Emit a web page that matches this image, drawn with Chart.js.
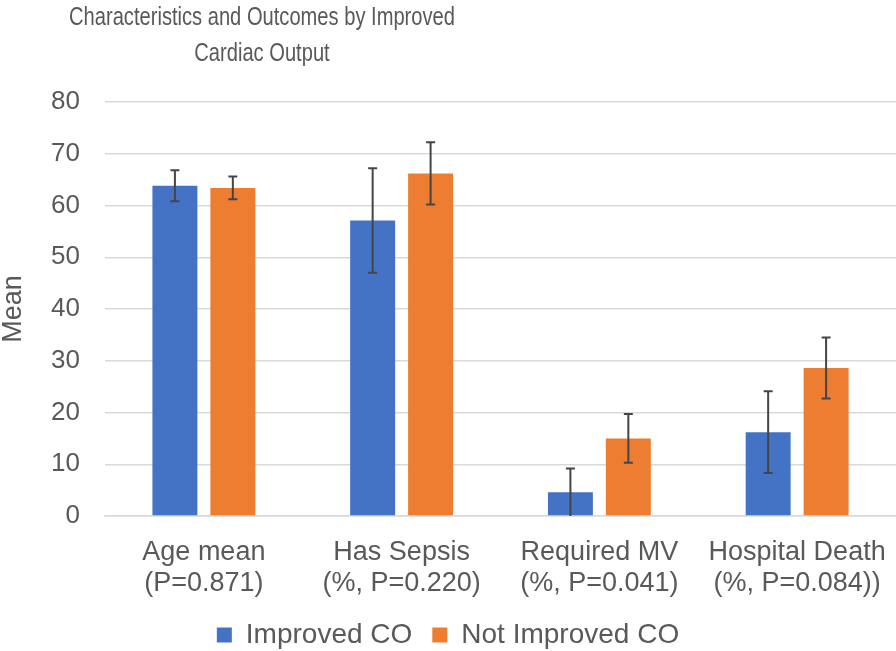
<!DOCTYPE html>
<html>
<head>
<meta charset="utf-8">
<script src="https://cdn.jsdelivr.net/npm/chart.js@4"></script>
<style>
  html, body { margin: 0; padding: 0; background: #fff; }
  #wrap { position: relative; width: 896px; height: 651px; }
</style>
</head>
<body>
<div id="wrap"><canvas id="chart"></canvas></div>
<script>
  // categories (two-line tick labels)
  var categories = [
    ['Age mean', '(P=0.871)'],
    ['Has Sepsis', '(%, P=0.220)'],
    ['Required MV', '(%, P=0.041)'],
    ['Hospital Death', '(%, P=0.084))']
  ];
  var improvedCO = [63.8, 57.1, 4.6, 16.2];
  var improvedErr = [3.0, 10.1, 4.6, 7.9];
  var notImprovedCO = [63.4, 66.2, 15.0, 28.6];
  var notImprovedErr = [2.2, 6.0, 4.7, 5.9];
  var yTicks = [0, 10, 20, 30, 40, 50, 60, 70, 80];
  var titleLines = ['Characteristics and Outcomes by Improved', 'Cardiac Output'];

  var grey = '#595959';
  var font = "'Liberation Sans', Arial, sans-serif";

  // draws the +/- error whiskers on top of each bar
  var errorBars = {
    id: 'errorBars',
    afterDatasetsDraw: function(chart) {
      var ctx = chart.ctx, y = chart.scales.y;
      chart.data.datasets.forEach(function(ds, di) {
        var meta = chart.getDatasetMeta(di);
        meta.data.forEach(function(bar, i) {
          var v = ds.data[i], e = ds.errors[i];
          var top = y.getPixelForValue(v + e);
          var bot = y.getPixelForValue(Math.max(0, v - e));
          ctx.save();
          ctx.strokeStyle = '#454545';
          ctx.lineWidth = 2;
          ctx.beginPath();
          ctx.moveTo(bar.x, top); ctx.lineTo(bar.x, bot);
          ctx.moveTo(bar.x - 4.5, top); ctx.lineTo(bar.x + 4.5, top);
          if (v - e > 0) { ctx.moveTo(bar.x - 4.5, bot); ctx.lineTo(bar.x + 4.5, bot); }
          ctx.stroke();
          ctx.restore();
        });
      });
    }
  };

  // title sits left of centre and is set in a condensed face in the source
  var offsetTitle = {
    id: 'offsetTitle',
    afterDraw: function(chart) {
      var ctx = chart.ctx, sx = 0.805, cx = 262;
      ctx.save();
      ctx.fillStyle = grey;
      ctx.font = "25px 'Liberation Sans', sans-serif";
      ctx.textAlign = 'center';
      ctx.textBaseline = 'alphabetic';
      ctx.scale(sx, 1);
      ctx.fillText(titleLines[0], cx / sx, 25);
      ctx.fillText(titleLines[1], cx / sx, 61);
      ctx.restore();
    }
  };

  new Chart(document.getElementById('chart'), {
    type: 'bar',
    data: {
      labels: categories,
      datasets: [
        { label: 'Improved CO', data: improvedCO, errors: improvedErr, backgroundColor: '#4472C4' },
        { label: 'Not Improved CO', data: notImprovedCO, errors: notImprovedErr, backgroundColor: '#ED7D31' }
      ]
    },
    options: {
      responsive: true,
      maintainAspectRatio: false,
      animation: false,
      categoryPercentage: 0.586,
      barPercentage: 0.776,
      layout: { padding: { top: 102, right: 0, left: 0, bottom: -8 } },
      plugins: {
        title: { display: false },
        tooltip: { enabled: false },
        legend: {
          position: 'bottom',
          labels: {
            color: grey,
            font: { family: font, size: 28 },
            boxWidth: 15, boxHeight: 15,
            padding: 20
          }
        }
      },
      scales: {
        x: {
          grid: { display: false, drawTicks: false },
          border: { display: true, color: '#d9d9d9', width: 1.5 },
          ticks: {
            color: grey, padding: 21, maxRotation: 0, autoSkip: false,
            font: { family: font, size: 27, lineHeight: 1.15 }
          },
          afterFit: function(scale) { scale.height = 85; scale.paddingLeft = 0; scale.paddingRight = 0; }
        },
        y: {
          min: 0, max: 80,
          afterBuildTicks: function(scale) { scale.ticks = yTicks.map(function(v) { return { value: v }; }); },
          grid: { color: '#d9d9d9', lineWidth: 1.5, drawTicks: false },
          border: { display: false },
          ticks: {
            color: grey, padding: 25,
            font: { family: font, size: 26 }
          },
          title: {
            display: true, text: 'Mean', color: grey,
            font: { family: font, size: 27, lineHeight: 1 },
            padding: { top: 0, bottom: 0 }
          },
          afterFit: function(scale) { scale.width = 105; }
        }
      }
    },
    plugins: [errorBars, offsetTitle]
  });
</script>
</body>
</html>
